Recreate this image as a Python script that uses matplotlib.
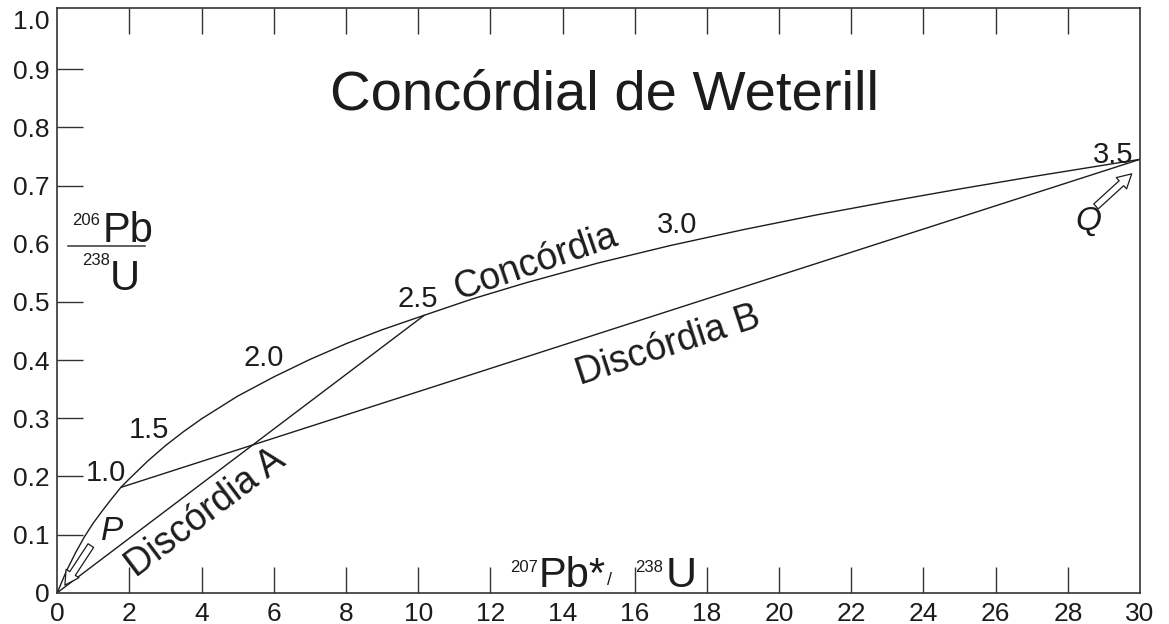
import matplotlib
matplotlib.use("Agg")
import matplotlib.pyplot as plt
from matplotlib.lines import Line2D
from matplotlib.transforms import ScaledTranslation

plt.rcParams["font.family"] = ["Liberation Sans", "DejaVu Sans"]

# Concordia curve: 207Pb*/235U (x) versus 206Pb/238U (y)
concordia_x = [0.0, 0.25, 0.5, 0.75, 1.0, 1.25, 1.5, 1.76, 2.0, 2.5, 3.0, 3.5, 4.0,
               5.0, 6.0, 7.0, 8.0, 9.0, 10.17, 11.5, 13.0, 15.0, 17.0, 19.0, 21.0,
               23.0, 25.0, 27.0, 28.5, 30.0]
concordia_y = [0.0, 0.037, 0.068, 0.096, 0.120, 0.141, 0.161, 0.181, 0.196, 0.226,
               0.253, 0.277, 0.299, 0.338, 0.371, 0.401, 0.428, 0.452, 0.477, 0.505,
               0.533, 0.567, 0.597, 0.624, 0.649, 0.672, 0.694, 0.715, 0.730, 0.745]

# Discordia lines
discordia_a_x = [0.0, 10.17]
discordia_a_y = [0.0, 0.477]
discordia_b_x = [1.76, 30.0]
discordia_b_y = [0.181, 0.745]

# Age labels (Ga) along the concordia
age_labels = ["1.0", "1.5", "2.0", "2.5", "3.0", "3.5"]
age_label_x = [1.34, 2.54, 5.73, 9.99, 17.17, 29.25]
age_label_y = [0.2055, 0.279, 0.403, 0.505, 0.632, 0.753]

# Axis ticks
x_ticks = list(range(0, 31, 2))
x_tick_labels = [str(v) for v in x_ticks]
y_ticks = [0.0, 0.1, 0.2, 0.3, 0.4, 0.5, 0.6, 0.7, 0.8, 0.9, 1.0]
y_tick_labels = ["0", "0.1", "0.2", "0.3", "0.4", "0.5", "0.6", "0.7", "0.8", "0.9", "1.0"]

W, H = 1169, 624
fig = plt.figure(figsize=(W / 100, H / 100), dpi=100)
fig.patch.set_facecolor("white")


def fx(px):
    return px / W


def fy(py):
    return 1 - py / H


ax = fig.add_axes([fx(57.3), fy(592.7), fx(1140) - fx(57.3), fy(7.5) - fy(592.7)])
ax.set_xlim(0, 30)
ax.set_ylim(0, 1.006)

ink = "#1c1c1c"
line_kw = dict(color=ink, lw=1.0, solid_capstyle="round", solid_joinstyle="round")
ax.plot(concordia_x, concordia_y, **line_kw)
ax.plot(discordia_a_x, discordia_a_y, **line_kw)
ax.plot(discordia_b_x, discordia_b_y, **line_kw)

for s in ax.spines.values():
    s.set_color("#333333")
    s.set_linewidth(1.2)

ax.set_xticks(x_ticks)
ax.set_xticklabels(x_tick_labels)
ax.set_yticks(y_ticks)
ax.set_yticklabels(y_tick_labels)
ax.tick_params(axis="both", direction="in", length=18.5, width=1.0, color="#333333",
               labelsize=19, labelcolor=ink)
ax.tick_params(axis="x", top=True, pad=6.5)
ax.tick_params(axis="y", right=False, pad=5.5)

# ticks hidden behind the axis labels / at the frame corners
for i, t in enumerate(ax.xaxis.get_major_ticks()):
    if x_ticks[i] in (0, 30):
        t.tick1line.set_visible(False)
        t.tick2line.set_visible(False)
    if x_ticks[i] == 14:
        t.tick1line.set_visible(False)
for i, t in enumerate(ax.yaxis.get_major_ticks()):
    if y_ticks[i] in (0.0, 0.6, 1.0):
        t.tick1line.set_visible(False)
    if y_ticks[i] == 1.0:
        # the top label sits a little below the frame line
        t.label1.set_transform(t.label1.get_transform()
                               + ScaledTranslation(0, -0.09, fig.dpi_scale_trans))

# age labels
for lab, x, y in zip(age_labels, age_label_x, age_label_y):
    ax.text(x, y, lab, fontsize=21, color=ink, ha="center", va="center")

# curve names
ax.text(13.25, 0.568, "Concórdia", fontsize=27, color=ink, rotation=19,
        ha="center", va="center", rotation_mode="anchor")
ax.text(16.92, 0.425, "Discórdia B", fontsize=27, color=ink, rotation=18,
        ha="center", va="center", rotation_mode="anchor")
ax.text(4.10, 0.137, "Discórdia A", fontsize=27, color=ink, rotation=37,
        ha="center", va="center", rotation_mode="anchor")

# P and Q with hollow arrows
ax.text(1.53, 0.106, "P", fontsize=24, style="italic", color=ink, ha="center", va="center")
ax.text(28.56, 0.638, "Q", fontsize=24, style="italic", color=ink, ha="center", va="center")
arrow_kw = dict(arrowstyle="simple,head_length=0.5,head_width=0.55,tail_width=0.24",
                fc="white", ec=ink, lw=0.9, shrinkA=0, shrinkB=0, mutation_scale=20)
ax.annotate("", xy=(0.21, 0.013), xytext=(0.93, 0.081), arrowprops=arrow_kw)
ax.annotate("", xy=(29.77, 0.720), xytext=(28.78, 0.664), arrowprops=arrow_kw)

# title
fig.text(fx(605), fy(110), "Concórdial de Weterill", fontsize=40.5, color=ink,
         ha="center", va="baseline")

# y-axis label as a stacked fraction
fig.text(fx(72), fy(225), "206", fontsize=12, color=ink, ha="left", va="baseline")
fig.text(fx(103), fy(242), "Pb", fontsize=30, color=ink, ha="left", va="baseline")
fig.add_artist(Line2D([fx(68), fx(145)], [fy(245.7), fy(245.7)], color="#333333",
                      lw=1.1, transform=fig.transFigure))
fig.text(fx(82), fy(265), "238", fontsize=12, color=ink, ha="left", va="baseline")
fig.text(fx(110), fy(290), "U", fontsize=30, color=ink, ha="left", va="baseline")

# x-axis label
fig.text(fx(510), fy(572), "207", fontsize=12, color=ink, ha="left", va="baseline")
fig.text(fx(539), fy(586.7), "Pb*", fontsize=30, color=ink, ha="left", va="baseline")
fig.text(fx(607), fy(585), "/", fontsize=13, color=ink, ha="left", va="baseline")
fig.text(fx(635), fy(572), "238", fontsize=12, color=ink, ha="left", va="baseline")
fig.text(fx(666), fy(587), "U", fontsize=31, color=ink, ha="left", va="baseline")

fig.savefig("out.png", dpi=100)
